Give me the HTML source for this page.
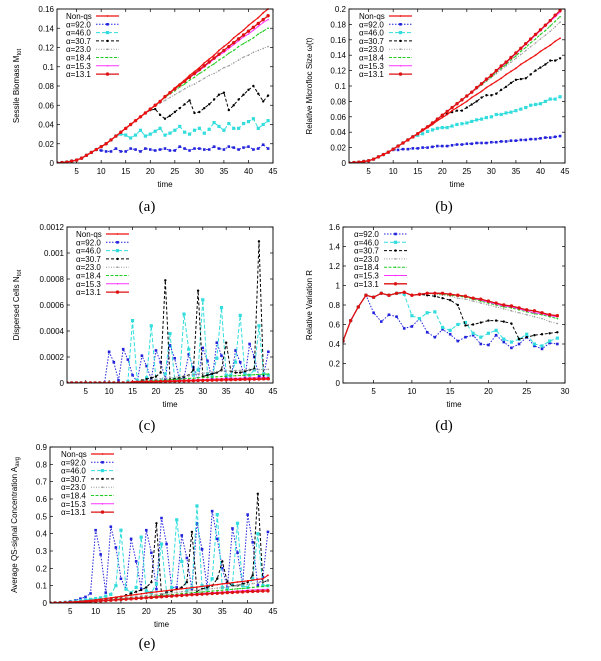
<!DOCTYPE html>
<html><head><meta charset="utf-8"><style>
html,body{margin:0;padding:0;background:#fff;}
svg{display:block;font-family:"Liberation Sans",sans-serif;}
.cap{font-family:"Liberation Serif",serif;font-size:15px;}
</style></head><body>
<svg id="fig" width="601" height="661" viewBox="0 0 601 661"></svg>
<script>
// ---------- Panel (a): sessile biomass ----------
const aNonqs=[0,0.0005,0.001,0.002,0.003,0.005,0.008,0.011,0.014,0.017,0.020,0.024,0.028,0.032,0.036,0.040,0.044,0.048,0.052,0.056,0.060,0.064,0.069,0.073,0.078,0.082,0.086,0.091,0.095,0.099,0.104,0.108,0.112,0.117,0.121,0.125,0.130,0.134,0.138,0.143,0.147,0.151,0.156,0.160];
const a131=[0,0.0005,0.001,0.002,0.003,0.005,0.008,0.011,0.014,0.017,0.020,0.024,0.028,0.032,0.036,0.040,0.044,0.048,0.052,0.056,0.060,0.064,0.069,0.073,0.077,0.081,0.085,0.089,0.093,0.097,0.101,0.105,0.109,0.113,0.117,0.121,0.125,0.129,0.133,0.137,0.141,0.145,0.149,0.153];
const a153=[0,0.0005,0.001,0.002,0.003,0.005,0.008,0.011,0.014,0.017,0.020,0.024,0.028,0.032,0.036,0.040,0.044,0.048,0.052,0.056,0.060,0.064,0.069,0.073,0.077,0.081,0.085,0.089,0.092,0.096,0.100,0.104,0.108,0.112,0.115,0.119,0.123,0.127,0.131,0.134,0.138,0.142,0.146,0.149];
const a184=[0,0.0005,0.001,0.002,0.003,0.005,0.008,0.011,0.014,0.017,0.020,0.024,0.028,0.032,0.036,0.040,0.044,0.048,0.052,0.056,0.060,0.064,0.068,0.072,0.075,0.079,0.082,0.086,0.089,0.093,0.096,0.100,0.103,0.107,0.110,0.114,0.117,0.121,0.124,0.127,0.130,0.134,0.137,0.140];
const a230=[0,0.0005,0.001,0.002,0.003,0.005,0.008,0.011,0.014,0.017,0.020,0.024,0.028,0.032,0.036,0.040,0.044,0.048,0.052,0.056,0.059,0.062,0.065,0.068,0.071,0.074,0.077,0.080,0.082,0.085,0.088,0.091,0.093,0.096,0.099,0.101,0.104,0.107,0.110,0.112,0.115,0.117,0.119,0.121];
const a307=[0,0.0005,0.001,0.002,0.003,0.005,0.008,0.011,0.014,0.017,0.020,0.024,0.028,0.032,0.036,0.040,0.044,0.048,0.052,0.055,0.056,0.050,0.046,0.049,0.053,0.057,0.061,0.065,0.052,0.053,0.057,0.061,0.066,0.071,0.073,0.055,0.060,0.066,0.071,0.076,0.080,0.072,0.064,0.070];
const a460=[0,0.0005,0.001,0.002,0.003,0.005,0.008,0.011,0.014,0.017,0.020,0.024,0.028,0.030,0.029,0.026,0.029,0.034,0.028,0.030,0.033,0.036,0.029,0.031,0.034,0.038,0.032,0.030,0.034,0.036,0.031,0.035,0.042,0.038,0.034,0.041,0.036,0.036,0.041,0.043,0.046,0.036,0.040,0.044];
const a920=[0,0.0005,0.001,0.002,0.003,0.005,0.008,0.011,0.014,0.013,0.012,0.012,0.015,0.012,0.012,0.015,0.014,0.012,0.015,0.014,0.013,0.014,0.015,0.013,0.013,0.017,0.015,0.013,0.015,0.015,0.014,0.014,0.017,0.015,0.014,0.017,0.016,0.014,0.016,0.017,0.014,0.015,0.019,0.015];
const aYTicks=[0,0.02,0.04,0.06,0.08,0.1,0.12,0.14,0.16];

// ---------- Panel (b): relative microfloc size ----------
const bNonqs=[0,0.0005,0.001,0.002,0.003,0.005,0.008,0.011,0.014,0.018,0.022,0.026,0.030,0.034,0.038,0.042,0.046,0.050,0.055,0.059,0.063,0.068,0.072,0.076,0.080,0.085,0.089,0.093,0.098,0.102,0.106,0.110,0.115,0.119,0.123,0.128,0.132,0.136,0.140,0.145,0.149,0.153,0.158,0.162];
const b131=[0,0.0005,0.001,0.002,0.003,0.005,0.008,0.011,0.014,0.018,0.022,0.026,0.030,0.034,0.038,0.043,0.047,0.052,0.057,0.062,0.067,0.072,0.077,0.082,0.087,0.092,0.098,0.103,0.109,0.114,0.120,0.126,0.131,0.137,0.143,0.149,0.155,0.161,0.167,0.173,0.179,0.185,0.192,0.198];
const b153=[0,0.0005,0.001,0.002,0.003,0.005,0.008,0.011,0.014,0.018,0.022,0.026,0.030,0.034,0.038,0.043,0.047,0.052,0.057,0.062,0.067,0.072,0.077,0.082,0.087,0.092,0.097,0.103,0.108,0.114,0.119,0.125,0.130,0.136,0.142,0.148,0.154,0.160,0.166,0.172,0.178,0.184,0.190,0.196];
const b184=[0,0.0005,0.001,0.002,0.003,0.005,0.008,0.011,0.014,0.018,0.022,0.026,0.030,0.034,0.038,0.043,0.047,0.052,0.057,0.062,0.067,0.072,0.077,0.082,0.087,0.092,0.097,0.102,0.107,0.112,0.118,0.123,0.128,0.134,0.139,0.145,0.150,0.156,0.161,0.167,0.172,0.178,0.184,0.190];
const b230=[0,0.0005,0.001,0.002,0.003,0.005,0.008,0.011,0.014,0.018,0.022,0.026,0.030,0.034,0.038,0.043,0.047,0.052,0.057,0.062,0.067,0.072,0.077,0.082,0.087,0.092,0.096,0.101,0.106,0.111,0.116,0.121,0.126,0.131,0.136,0.141,0.146,0.151,0.156,0.161,0.166,0.171,0.177,0.183];
const b307=[0,0.0005,0.001,0.002,0.003,0.005,0.008,0.011,0.014,0.018,0.022,0.026,0.030,0.034,0.038,0.043,0.047,0.052,0.057,0.061,0.064,0.066,0.068,0.068,0.072,0.076,0.080,0.085,0.088,0.088,0.090,0.095,0.099,0.104,0.108,0.109,0.110,0.115,0.120,0.124,0.128,0.133,0.133,0.136];
const b460=[0,0.0005,0.001,0.002,0.003,0.005,0.008,0.011,0.014,0.018,0.022,0.026,0.030,0.034,0.036,0.038,0.041,0.043,0.045,0.046,0.046,0.048,0.050,0.051,0.052,0.054,0.056,0.057,0.059,0.060,0.063,0.063,0.065,0.066,0.068,0.070,0.072,0.075,0.076,0.077,0.080,0.083,0.083,0.086];
const b920=[0,0.0005,0.001,0.002,0.003,0.005,0.008,0.011,0.014,0.017,0.017,0.018,0.018,0.019,0.019,0.020,0.020,0.021,0.022,0.022,0.022,0.023,0.024,0.024,0.025,0.025,0.026,0.026,0.026,0.027,0.027,0.028,0.028,0.029,0.029,0.030,0.030,0.031,0.031,0.032,0.033,0.033,0.034,0.035];
const bYTicks=[0,0.02,0.04,0.06,0.08,0.1,0.12,0.14,0.16,0.18,0.2];

// ---------- Panel (c): dispersed cells ----------
const cNonqs=[0,0,0,0,0,0,0,0,0,0,0,0,0,0,0.00001,0.00001,0.00001,0.00001,0.00001,0.00001,0.000012,0.000013,0.000014,0.000015,0.000016,0.000017,0.000018,0.000019,0.00002,0.00002,0.000021,0.000022,0.000022,0.000023,0.000024,0.000024,0.000025,0.000026,0.000026,0.000027,0.000028,0.000028,0.000029,0.00003];
const c131=[0,0,0,0,0,0,0,0,0,0,0,0,0,0,0.000005,0.000006,0.000007,0.000008,0.000009,0.00001,0.000011,0.000012,0.000013,0.000014,0.000015,0.000016,0.000017,0.000018,0.000019,0.00002,0.000021,0.000022,0.000023,0.000024,0.000025,0.000026,0.000027,0.000028,0.000029,0.00003,0.00003,0.000031,0.000032,0.000033];
const c153=[0,0,0,0,0,0,0,0,0,0,0,0,0,0,0.000006,0.000007,0.000008,0.00001,0.000011,0.000012,0.000014,0.000015,0.000017,0.000018,0.00002,0.000021,0.000022,0.000024,0.000025,0.000027,0.000028,0.00003,0.000031,0.000032,0.000034,0.000035,0.000036,0.000037,0.000038,0.000039,0.00004,0.000041,0.000042,0.000043];
const c184=[0,0,0,0,0,0,0,0,0,0,0,0,0,0,0.000008,0.00001,0.000012,0.000014,0.000016,0.000018,0.00002,0.000022,0.000025,0.000027,0.00003,0.000032,0.000035,0.000037,0.00004,0.000042,0.000044,0.000046,0.000048,0.00005,0.000052,0.000054,0.000056,0.000058,0.00006,0.000062,0.000064,0.000066,0.000068,0.00007];
const c230=[0,0,0,0,0,0,0,0,0,0,0,0,0,0,0.00001,0.000013,0.000016,0.00002,0.000024,0.000028,0.000032,0.000036,0.00004,0.000045,0.00005,0.000055,0.00006,0.000065,0.00007,0.000075,0.00008,0.000084,0.000088,0.00009,0.000092,0.000094,0.000096,0.000098,0.0001,0.000101,0.000102,0.000103,0.000104,0.000105];
const c307=[0,0,0,0,0,0,0,0,0,0,0,0,0,0,0,0,0.00002,0.00003,0.00004,0.00005,0.00008,0.00079,0.00003,0.00003,0.00004,0.00005,0.00006,0.0001,0.00071,0.00005,0.00006,0.00007,0.00008,0.0001,0.00031,0.00009,0.00008,0.00008,0.00009,0.0001,0.00011,0.00109,0.00003,0.00003];
const c460=[0,0,0,0,0,0,0,0,0,0,0,0,0,0.00001,0.00048,0.00002,0.00001,0.00004,0.00044,0.00002,0.00001,0.00007,0.00038,0.00003,0.00002,0.00053,0.00026,0.00006,0.0001,0.00064,0.00007,0.00005,0.00019,0.00058,0.00006,0.00006,0.00016,0.00052,0.00007,0.00006,0.0001,0.00044,0.00007,0.00006];
const c920=[0,0,0,0,0,0,0,0,0,0.00024,0.00016,0.00002,0.00026,0.00018,0.00006,0.00001,0.00021,0.00013,0.00003,0.00025,0.00016,0.00003,0.00029,0.00019,0.00003,0.00004,0.00022,0.00012,0.00002,0.00027,0.00017,0.00003,0.00031,0.00021,0.00005,0.00003,0.00025,0.00016,0.00004,0.0003,0.0002,0.00005,0.00006,0.00024];
const cYTicks=[0,0.0002,0.0004,0.0006,0.0008,0.001,0.0012];
const cYLabels=["0","0.0002","0.0004","0.0006","0.0008","0.001","0.0012"];

// ---------- Panel (d): relative variation ----------
const d131=[0.43,0.64,0.78,0.90,0.88,0.92,0.90,0.92,0.93,0.90,0.91,0.92,0.92,0.92,0.91,0.90,0.89,0.87,0.86,0.84,0.82,0.80,0.79,0.77,0.75,0.74,0.72,0.70,0.69];
const d153=[0.43,0.64,0.78,0.90,0.88,0.92,0.90,0.92,0.93,0.90,0.91,0.92,0.92,0.92,0.91,0.90,0.89,0.87,0.85,0.83,0.81,0.79,0.78,0.76,0.74,0.72,0.71,0.69,0.68];
const d184=[0.43,0.64,0.78,0.90,0.88,0.92,0.90,0.92,0.93,0.90,0.91,0.92,0.92,0.91,0.90,0.89,0.88,0.86,0.84,0.82,0.80,0.78,0.77,0.75,0.73,0.71,0.70,0.68,0.66];
const d230=[0.43,0.64,0.78,0.90,0.88,0.92,0.90,0.92,0.93,0.90,0.91,0.92,0.91,0.90,0.89,0.87,0.86,0.84,0.82,0.80,0.78,0.76,0.74,0.72,0.70,0.68,0.66,0.63,0.61];
const d307=[0.43,0.64,0.78,0.90,0.88,0.92,0.90,0.92,0.93,0.90,0.91,0.90,0.89,0.87,0.85,0.80,0.59,0.60,0.62,0.64,0.64,0.63,0.61,0.45,0.47,0.49,0.50,0.51,0.52];
const d460=[0.43,0.64,0.78,0.90,0.88,0.92,0.90,0.92,0.91,0.69,0.66,0.72,0.73,0.57,0.54,0.60,0.62,0.51,0.47,0.51,0.54,0.45,0.42,0.45,0.50,0.40,0.38,0.43,0.46];
const d920=[0.43,0.64,0.78,0.90,0.72,0.63,0.70,0.68,0.56,0.58,0.66,0.52,0.47,0.55,0.50,0.43,0.47,0.49,0.40,0.39,0.49,0.42,0.36,0.40,0.47,0.38,0.35,0.41,0.40];
const dYTicks=[0,0.2,0.4,0.6,0.8,1,1.2,1.4,1.6];
const dXTicks=[5,10,15,20,25,30];

// ---------- Panel (e): average QS-signal concentration ----------
const eNonqs=[0,0.001,0.002,0.003,0.005,0.007,0.009,0.012,0.015,0.018,0.022,0.026,0.030,0.034,0.038,0.041,0.045,0.049,0.053,0.057,0.061,0.064,0.068,0.071,0.075,0.078,0.082,0.085,0.089,0.092,0.096,0.099,0.103,0.106,0.110,0.113,0.117,0.121,0.124,0.128,0.132,0.136,0.140,0.160];
const e131=[0,0,0.001,0.002,0.003,0.004,0.005,0.006,0.008,0.010,0.012,0.014,0.016,0.018,0.020,0.022,0.024,0.026,0.028,0.030,0.032,0.034,0.036,0.038,0.040,0.042,0.044,0.046,0.048,0.049,0.051,0.053,0.055,0.056,0.058,0.060,0.061,0.063,0.064,0.066,0.067,0.068,0.069,0.070];
const e153=[0,0,0.001,0.002,0.003,0.004,0.005,0.007,0.009,0.011,0.013,0.015,0.017,0.019,0.021,0.023,0.026,0.028,0.030,0.032,0.034,0.036,0.038,0.041,0.043,0.045,0.047,0.049,0.051,0.053,0.055,0.057,0.059,0.061,0.063,0.065,0.067,0.069,0.071,0.073,0.075,0.077,0.078,0.080];
const e184=[0,0,0.001,0.002,0.003,0.004,0.006,0.008,0.010,0.012,0.014,0.017,0.019,0.021,0.024,0.026,0.029,0.031,0.034,0.036,0.039,0.041,0.044,0.046,0.049,0.051,0.054,0.056,0.059,0.061,0.064,0.066,0.069,0.071,0.074,0.076,0.079,0.082,0.084,0.087,0.090,0.093,0.096,0.100];
const e230=[0,0,0.001,0.002,0.003,0.005,0.007,0.009,0.011,0.014,0.017,0.020,0.023,0.026,0.029,0.032,0.035,0.038,0.041,0.044,0.047,0.050,0.053,0.056,0.059,0.062,0.065,0.068,0.071,0.074,0.077,0.080,0.083,0.086,0.089,0.092,0.096,0.100,0.104,0.108,0.112,0.117,0.122,0.130];
const e307=[0,0,0.001,0.002,0.004,0.006,0.008,0.010,0.013,0.016,0.019,0.022,0.026,0.030,0.035,0.045,0.055,0.065,0.075,0.09,0.12,0.46,0.05,0.06,0.07,0.08,0.09,0.12,0.41,0.07,0.08,0.09,0.10,0.14,0.24,0.12,0.10,0.10,0.11,0.12,0.16,0.63,0.12,0.13];
const e460=[0,0.001,0.002,0.004,0.007,0.010,0.013,0.017,0.021,0.025,0.030,0.040,0.050,0.10,0.42,0.08,0.06,0.09,0.38,0.07,0.06,0.11,0.34,0.06,0.09,0.48,0.24,0.07,0.09,0.56,0.10,0.08,0.14,0.51,0.09,0.08,0.11,0.46,0.10,0.09,0.14,0.40,0.10,0.10];
const e920=[0,0,0.002,0.005,0.010,0.015,0.025,0.035,0.055,0.42,0.28,0.06,0.44,0.32,0.14,0.08,0.37,0.24,0.08,0.42,0.29,0.08,0.49,0.34,0.09,0.09,0.39,0.26,0.08,0.46,0.31,0.09,0.53,0.37,0.20,0.09,0.43,0.29,0.10,0.51,0.35,0.10,0.15,0.41];
const eYTicks=[0,0.1,0.2,0.3,0.4,0.5,0.6,0.7,0.8,0.9];

const xTicks45=[5,10,15,20,25,30,35,40,45];

const NS="http://www.w3.org/2000/svg";
const svg=document.getElementById('fig');
function mk(tag,attrs,parent){const e=document.createElementNS(NS,tag);for(const k in attrs)e.setAttribute(k,attrs[k]);(parent||svg).appendChild(e);return e;}

const STY={
 nonqs:{c:"#ee1111",dash:"",w:1.2,m:"plus",label:"Non-qs"},
 s920:{c:"#2222dd",dash:"1.5,1.5",w:1,m:"sq",label:"α=92.0"},
 s460:{c:"#33dddd",dash:"4,2",w:1,m:"sqbig",label:"α=46.0"},
 s307:{c:"#000000",dash:"3,2",w:1,m:"dot",label:"α=30.7"},
 s230:{c:"#999999",dash:"1,1.5",w:1,m:"tiny",label:"α=23.0"},
 s184:{c:"#22cc22",dash:"3,1.5",w:1,m:"tiny",label:"α=18.4"},
 s153:{c:"#ff33ff",dash:"",w:1,m:"tiny",label:"α=15.3"},
 s131:{c:"#dd1111",dash:"",w:1.3,m:"circ",label:"α=13.1"}
};

function marker(g,kind,x,y,c){
 let e;
 if(kind==="sq"){e=mk('rect',{x:x-1.3,y:y-1.3,width:2.6,height:2.6,fill:c},g);}
 else if(kind==="sqbig"){e=mk('rect',{x:x-1.6,y:y-1.6,width:3.2,height:3.2,fill:c},g);}
 else if(kind==="circ"){e=mk('circle',{cx:x,cy:y,r:1.7,fill:c},g);}
 else if(kind==="dot"){e=mk('circle',{cx:x,cy:y,r:1.2,fill:c},g);}
 else if(kind==="plus"){e=mk('circle',{cx:x,cy:y,r:0.9,fill:c},g);}
 else {e=mk('circle',{cx:x,cy:y,r:0.8,fill:c},g);}
 
 
}

function panel(p){
 const g=mk('g',{});
 
 
 const X=v=>p.x0+(v-p.xmin)/(p.xmax-p.xmin)*(p.x1-p.x0);
 const Y=v=>p.y1-(v-p.ymin)/(p.ymax-p.ymin)*(p.y1-p.y0);
 const cid='clip-'+p.name;
 const cp=mk('clipPath',{id:cid},g);mk('rect',{x:p.x0,y:p.y0-1,width:p.x1-p.x0,height:p.y1-p.y0+1},cp);
 // ticks
 p.yTicks.forEach((v,i)=>{
  const y=Y(v);
  mk('line',{x1:p.x0,y1:y,x2:p.x0+3,y2:y,stroke:"#000","stroke-width":0.7},g);
  mk('line',{x1:p.x1,y1:y,x2:p.x1-3,y2:y,stroke:"#000","stroke-width":0.7},g);
  const t=mk('text',{x:p.x0-3,y:y+3,"font-size":8,"text-anchor":"end",fill:"#000"},g);
  t.textContent=p.yLabels?p.yLabels[i]:String(v);
  
  
 });
 p.xTicks.forEach(v=>{
  const x=X(v);
  mk('line',{x1:x,y1:p.y1,x2:x,y2:p.y1-3,stroke:"#000","stroke-width":0.7},g);
  mk('line',{x1:x,y1:p.y0,x2:x,y2:p.y0+3,stroke:"#000","stroke-width":0.7},g);
  const t=mk('text',{x:x,y:p.y1+11,"font-size":8,"text-anchor":"middle",fill:"#000"},g);
  t.textContent=String(v);
  
  
 });
 // series
 const sg=mk('g',{"clip-path":"url(#"+cid+")"},g);
 p.series.forEach(s=>{
  const st=STY[s.key];
  const pts=s.data.map((v,i)=>[X(p.xstart+i),Y(v)]);
  const pl=mk('polyline',{points:pts.map(q=>q[0].toFixed(1)+","+q[1].toFixed(1)).join(" "),fill:"none",stroke:st.c,"stroke-width":st.w,"stroke-dasharray":st.dash},sg);
  
  
  pts.forEach(q=>marker(sg,st.m,q[0],q[1],st.c));
 });
 // frame
 const fr=mk('rect',{x:p.x0,y:p.y0,width:p.x1-p.x0,height:p.y1-p.y0,fill:"none",stroke:"#000","stroke-width":0.9},g);
 
 
 // legend
 const lg=mk('g',{},g);
 
 
 p.legend.forEach((k,i)=>{
  const st=STY[k];const y=p.y0+7+i*8.3;
  const t=mk('text',{x:p.lx,y:y+3,"font-size":8,fill:"#000"},lg);
  t.textContent=st.label;
  
  
  mk('line',{x1:p.lx+30,y1:y,x2:p.lx+53,y2:y,stroke:st.c,"stroke-width":st.w,"stroke-dasharray":st.dash},lg);
  marker(lg,st.m,p.lx+41.5,y,st.c);
 });
 // axis titles
 const xt=mk('text',{x:(p.x0+p.x1)/2,y:p.y1+24,"font-size":8,"text-anchor":"middle",fill:"#000"},g);
 xt.textContent="time";
 
 
 const cy=(p.y0+p.y1)/2;
 const yt=mk('text',{x:p.ytx,y:cy,"font-size":8,"text-anchor":"middle",fill:"#000",transform:`rotate(-90 ${p.ytx} ${cy})`},g);
 yt.innerHTML=p.ytitle;
 
 
 const cap=mk('text',{x:p.capx,y:p.capy,"text-anchor":"middle",fill:"#000","class":"cap"},g);
 cap.textContent=p.cap;
 
 
}

const L8=["nonqs","s920","s460","s307","s230","s184","s153","s131"];
panel({name:"panel-a",x0:57,x1:273,y0:9,y1:163,xmin:1,xmax:45,ymin:0,ymax:0.16,xstart:1,xTicks:xTicks45,yTicks:aYTicks,lx:66,
 ytx:19,ytitle:'Sessile Biomass M<tspan font-size="6" dy="2">tot</tspan>',cap:"(a)",capx:147,capy:211,legend:L8,
 series:[{key:"s920",data:a920},{key:"s460",data:a460},{key:"s307",data:a307},{key:"s230",data:a230},{key:"s184",data:a184},{key:"s153",data:a153},{key:"s131",data:a131},{key:"nonqs",data:aNonqs}]});
panel({name:"panel-b",x0:349,x1:565,y0:9,y1:163,xmin:1,xmax:45,ymin:0,ymax:0.2,xstart:1,xTicks:xTicks45,yTicks:bYTicks,lx:359,
 ytx:312,ytitle:'Relative Microfloc Size ω(t)',cap:"(b)",capx:444,capy:211,legend:L8,
 series:[{key:"s920",data:b920},{key:"s460",data:b460},{key:"s307",data:b307},{key:"s230",data:b230},{key:"s184",data:b184},{key:"s153",data:b153},{key:"s131",data:b131},{key:"nonqs",data:bNonqs}]});
panel({name:"panel-c",x0:67,x1:273,y0:227,y1:383,xmin:1,xmax:45,ymin:0,ymax:0.0012,xstart:1,xTicks:xTicks45,yTicks:cYTicks,yLabels:cYLabels,lx:76,
 ytx:19,ytitle:'Dispersed Cells N<tspan font-size="6" dy="2">tot</tspan>',cap:"(c)",capx:147,capy:430,legend:L8,
 series:[{key:"s920",data:c920},{key:"s460",data:c460},{key:"s307",data:c307},{key:"s230",data:c230},{key:"s184",data:c184},{key:"s153",data:c153},{key:"s131",data:c131},{key:"nonqs",data:cNonqs}]});
panel({name:"panel-d",x0:343,x1:565,y0:227,y1:383,xmin:1,xmax:30,ymin:0,ymax:1.6,xstart:1,xTicks:dXTicks,yTicks:dYTicks,lx:354,
 ytx:312,ytitle:'Relative Variation R',cap:"(d)",capx:444,capy:430,legend:["s920","s460","s307","s230","s184","s153","s131"],
 series:[{key:"s920",data:d920},{key:"s460",data:d460},{key:"s307",data:d307},{key:"s230",data:d230},{key:"s184",data:d184},{key:"s153",data:d153},{key:"s131",data:d131}]});
panel({name:"panel-e",x0:50,x1:273,y0:447,y1:603,xmin:1,xmax:45,ymin:0,ymax:0.9,xstart:1,xTicks:xTicks45,yTicks:eYTicks,lx:61,
 ytx:17,ytitle:'Average QS-signal Concentration A<tspan font-size="6" dy="2">avg</tspan>',cap:"(e)",capx:147,capy:648,legend:L8,
 series:[{key:"s920",data:e920},{key:"s460",data:e460},{key:"s307",data:e307},{key:"s230",data:e230},{key:"s184",data:e184},{key:"s153",data:e153},{key:"s131",data:e131},{key:"nonqs",data:eNonqs}]});
</script>
</body></html>
